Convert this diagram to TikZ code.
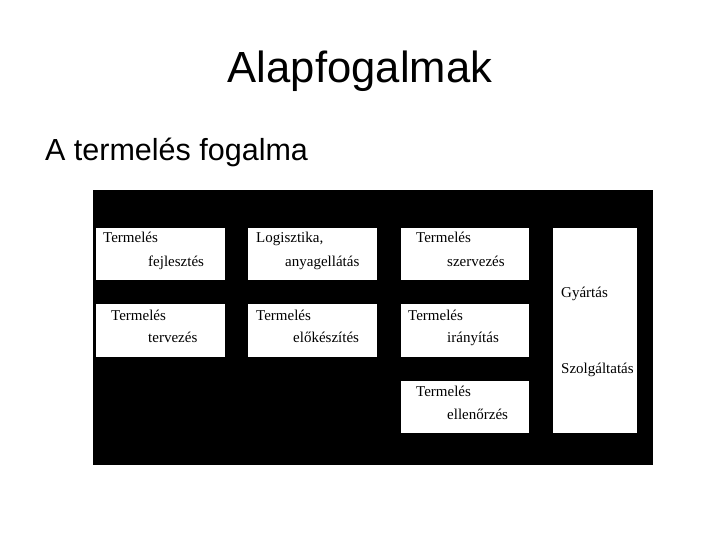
\documentclass[tikz,border=0pt]{standalone}
\usepackage{fontspec}
\setmainfont{Liberation Serif}
\newfontfamily\arialf{Liberation Sans}
\begin{document}
\begin{tikzpicture}[x=1pt,y=-1pt,
  wbox/.style={fill=white,draw=none,inner sep=0,anchor=north west},
  lbl/.style={anchor=base west,inner sep=0,font=\fontsize{15}{17}\selectfont}]
\useasboundingbox (0,0) rectangle (720,540);
\node[anchor=base,inner sep=0,font=\arialf\fontsize{43.6}{48}\selectfont] (title) at (360,83) {Alapfogalmak};
\node[anchor=base west,inner sep=0,font=\arialf\fontsize{30.5}{34}\selectfont] (sub) at (45,161) {A termelés fogalma};
\node[fill=black,inner sep=0,anchor=north west,minimum width=560pt,minimum height=275pt] (bg) at (93,190) {};
% boxes
\node[wbox,minimum width=129pt,minimum height=52pt] (b1) at (96,228) {};
\node[wbox,minimum width=129pt,minimum height=52pt] (b2) at (248,228) {};
\node[wbox,minimum width=128pt,minimum height=52pt] (b5) at (401,228) {};
\node[wbox,minimum width=129pt,minimum height=53pt] (b3) at (96,304) {};
\node[wbox,minimum width=129pt,minimum height=53pt] (b4) at (248,304) {};
\node[wbox,minimum width=128pt,minimum height=53pt] (b6) at (401,304) {};
\node[wbox,minimum width=128pt,minimum height=52pt] (b7) at (401,381) {};
\node[wbox,minimum width=84pt,minimum height=205pt] (bt) at (553,228) {};
% labels
\node[lbl] (t1a) at (103,243) {Termelés};
\node[lbl] (t1b) at (148,266) {fejlesztés};
\node[lbl] (t2a) at (256,243) {Logisztika,};
\node[lbl] (t2b) at (285,266) {anyagellátás};
\node[lbl] (t5a) at (416,243) {Termelés};
\node[lbl] (t5b) at (447,266) {szervezés};
\node[lbl] (t3a) at (111,320) {Termelés};
\node[lbl] (t3b) at (148,342) {tervezés};
\node[lbl] (t4a) at (256,320) {Termelés};
\node[lbl] (t4b) at (293,342) {előkészítés};
\node[lbl] (t6a) at (408,320) {Termelés};
\node[lbl] (t6b) at (447,342) {irányítás};
\node[lbl] (t7a) at (416,396) {Termelés};
\node[lbl] (t7b) at (447,419) {ellenőrzés};
\node[lbl] (gy) at (561,297) {Gyártás};
\node[lbl] (sz) at (561,373) {Szolgáltatás};
\end{tikzpicture}
\end{document}
